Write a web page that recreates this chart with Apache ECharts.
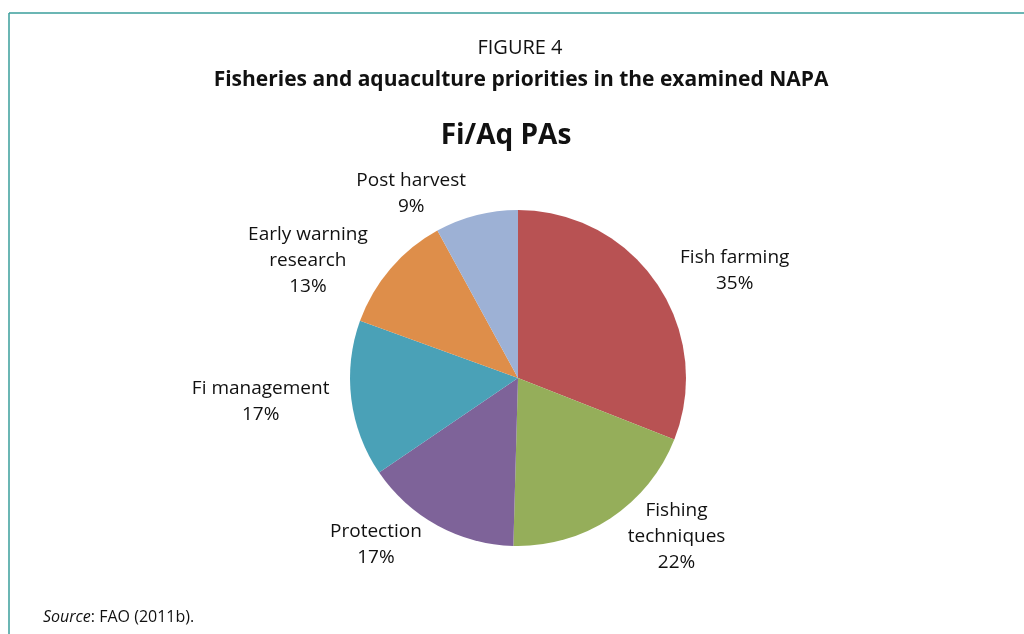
<!DOCTYPE html>
<html>
<head>
<meta charset="utf-8">
<title>Fisheries and aquaculture priorities in the examined NAPA</title>
<script src="https://cdn.jsdelivr.net/npm/echarts@6/dist/echarts.min.js"></script>
<style>
  html, body { margin: 0; padding: 0; background: #ffffff; }
  #chart { width: 1024px; height: 634px; }
</style>
</head>
<body>
<div id="chart"></div>
<script>
// Priority areas (PAs) for fisheries and aquaculture, share in percent
const categories = [
  'Fish farming',
  'Fishing\ntechniques',
  'Protection',
  'Fi management',
  'Early warning\nresearch',
  'Post harvest'
];
const shares = [35, 22, 17, 17, 13, 9];
const sliceColors = ['#B85253', '#95AE5A', '#7E6399', '#4AA1B7', '#DE8E4A', '#9DB1D5'];

const FONT = '"Open Sans", "Noto Sans", sans-serif';
const INK = '#111111';
const FRAME = '#3a9e9b';

const chart = echarts.init(document.getElementById('chart'), null, { renderer: 'canvas' });

chart.setOption({
  backgroundColor: '#ffffff',
  animation: false,
  title: [
    {
      text: 'FIGURE 4',
      left: 515, top: 33, textAlign: 'center',
      textStyle: { fontFamily: FONT, fontSize: 20, fontWeight: 'normal', color: INK }
    },
    {
      text: 'Fisheries and aquaculture priorities in the examined NAPA',
      left: 516, top: 65, textAlign: 'center',
      textStyle: { fontFamily: FONT, fontSize: 21, fontWeight: 'bold', color: INK }
    },
    {
      text: 'Fi/Aq PAs',
      left: 501, top: 117, textAlign: 'center',
      textStyle: { fontFamily: FONT, fontSize: 28, fontWeight: 'bold', color: INK }
    }
  ],
  graphic: [
    // figure frame: top and left rules
    { type: 'line', silent: true, shape: { x1: 9, y1: 13, x2: 1024, y2: 13 },
      style: { stroke: FRAME, lineWidth: 1.5 } },
    { type: 'line', silent: true, shape: { x1: 9, y1: 13, x2: 9, y2: 634 },
      style: { stroke: FRAME, lineWidth: 1.5 } },
    {
      type: 'text', left: 43, top: 609,
      style: {
        text: '{i|Source}: FAO (2011b).',
        font: '16px ' + FONT,
        fill: INK,
        rich: { i: { fontStyle: 'italic', fontSize: 16, fontFamily: FONT, fill: INK } }
      }
    }
  ],
  series: [
    {
      type: 'pie',
      center: [518, 378],
      radius: 168,
      startAngle: 90,
      clockwise: true,
      avoidLabelOverlap: true,
      data: categories.map((name, i) => ({
        name: name,
        value: shares[i],
        itemStyle: { color: sliceColors[i] }
      })),
      itemStyle: { borderWidth: 0 },
      emphasis: { disabled: true },
      label: {
        show: true,
        position: 'outside',
        formatter: '{b}\n{c}%',
        fontFamily: FONT,
        fontSize: 19,
        lineHeight: 26,
        color: INK
      },
      labelLine: { show: false, length: 22, length2: 0 },
      labelLayout: function (params) {
        const r = params.labelRect;
        return { x: r.x + r.width / 2, align: 'center' };
      }
    }
  ]
});
</script>
</body>
</html>
